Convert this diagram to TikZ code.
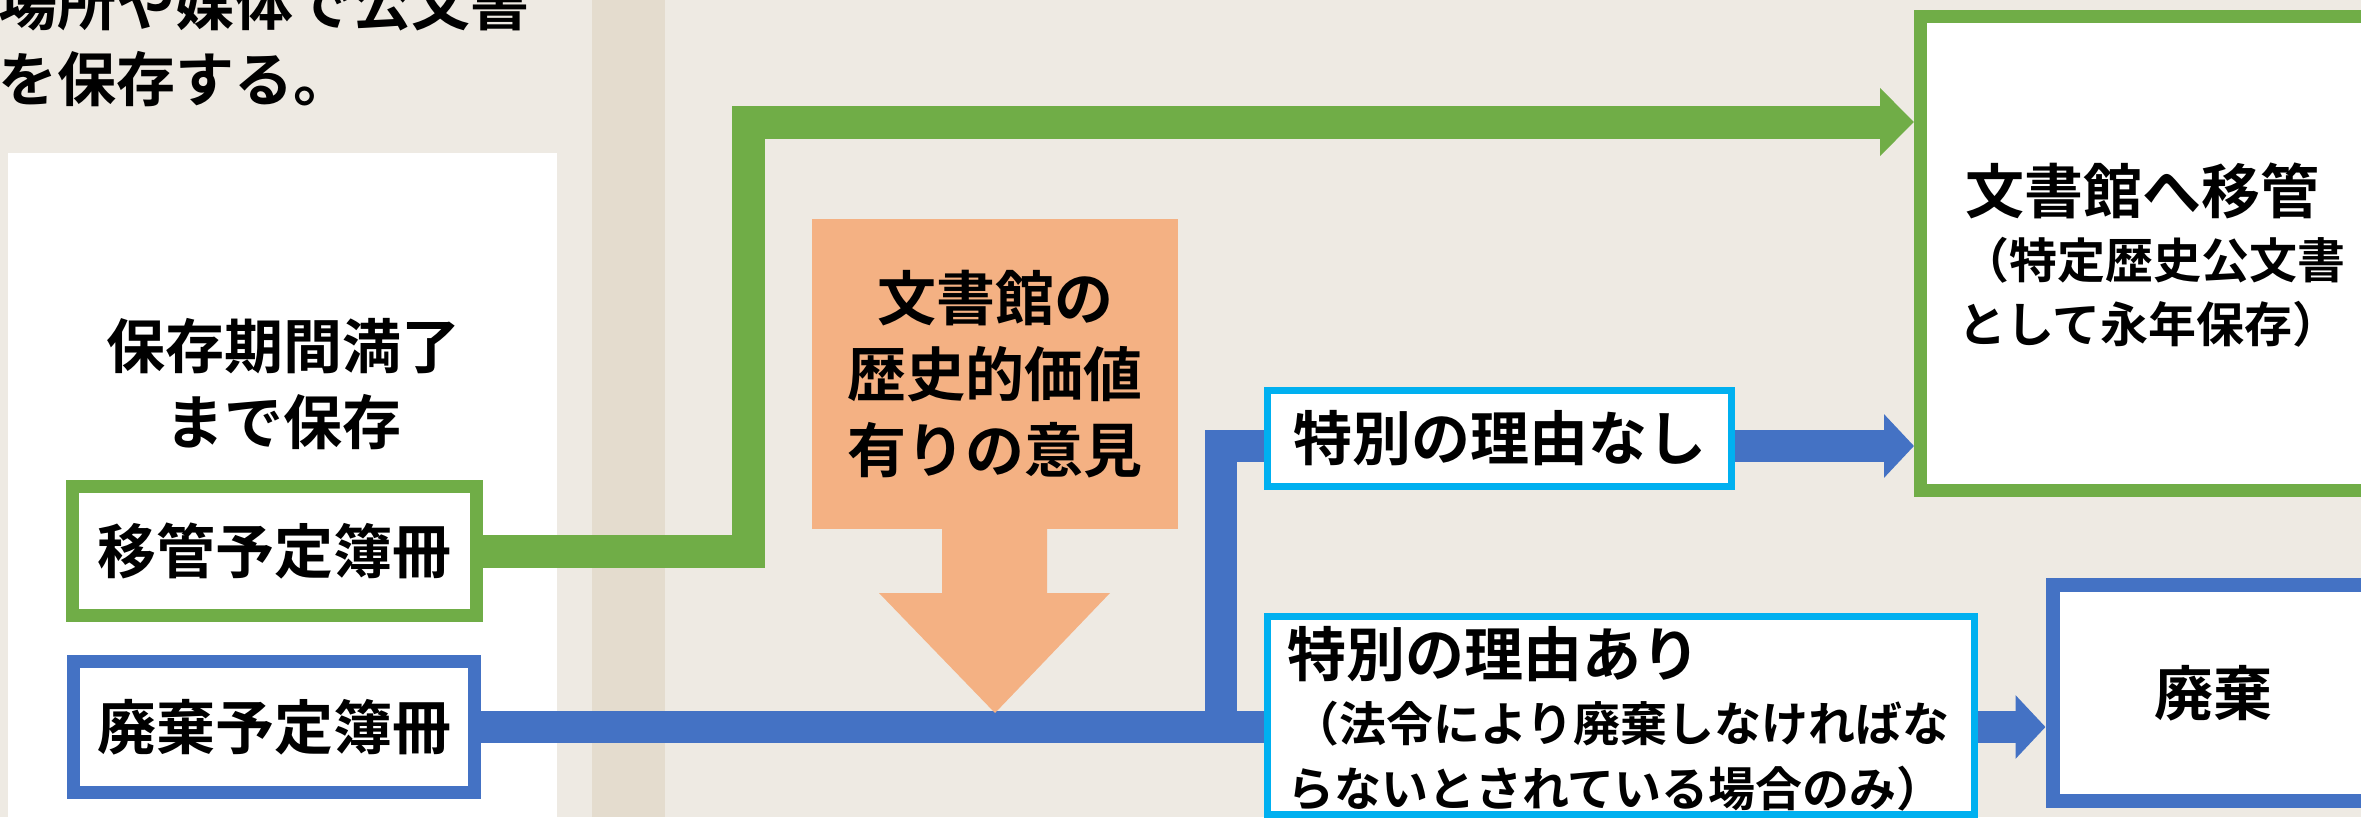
\documentclass[tikz,border=0pt]{standalone}
\usepackage{fontspec}
\newfontfamily\jp{Noto Sans CJK JP}[BoldFont={Noto Sans CJK JP Bold}]
\usetikzlibrary{arrows.meta}
\definecolor{bg}{HTML}{EEEAE3}
\definecolor{stripe}{HTML}{E4DCCE}
\definecolor{gr}{HTML}{70AD47}
\definecolor{bl}{HTML}{4472C4}
\definecolor{cy}{HTML}{00B0F0}
\definecolor{org}{HTML}{F4B183}
\begin{document}
\begin{tikzpicture}[x=1pt,y=-1pt,
  big/.style={font=\jp\bfseries\fontsize{59}{76}\selectfont},
  small/.style={font=\jp\bfseries\fontsize{48}{64}\selectfont},
  smaller/.style={font=\jp\bfseries\fontsize{47}{64}\selectfont},
  txt/.style={inner sep=0pt},
  gbox/.style={draw=gr,line width=13pt,fill=white,inner sep=0pt},
  bbox/.style={draw=bl,line width=13pt,fill=white,inner sep=0pt},
  cbox/.style={draw=cy,line width=7pt,fill=white,inner sep=0pt},
  gline/.style={draw=gr,line width=33pt},
  bline/.style={draw=bl,line width=32pt},
  garrow/.style={gline,-{Triangle[length=34pt,width=66pt]}},
  barrow/.style={bline,-{Triangle[length=30pt,width=62pt]}},
]
\useasboundingbox (0,0) rectangle (2361,817);
\clip (0,0) rectangle (2361,817);
% background
\fill[bg] (0,0) rectangle (2361,817);
\fill[stripe] (592,0) rectangle (665,817);
\fill[white] (8,153) rectangle (557,817);

% top-left text
\node[big,txt,align=left,anchor=west] (toptext) at (-2,41) {場所や媒体で公文書\\を保存する。};

% left panel
\node[big,txt,align=center] (keep) at (283,384.5) {保存期間満了\\まで保存};
\node[gbox,big,minimum width=404pt,minimum height=129pt] (ikan) at (274.5,551) {移管予定簿冊};
\node[bbox,big,minimum width=401pt,minimum height=131pt] (haiki) at (274,727) {廃棄予定簿冊};

% opinion callout
\node[fill=org,big,txt,align=center,minimum width=366pt,minimum height=310pt] (opinion) at (995,374) {文書館の\\歴史的価値\\有りの意見};

% right boxes
\node[gbox,minimum width=453pt,minimum height=474pt] (archive) at (2147,253.5) {};
\node[big,txt,anchor=west] (arch1) at (1965,190.5) {文書館へ移管};
\node[small,txt,anchor=west] (arch2) at (1961,260) {（特定歴史公文書};
\node[small,txt,anchor=west] (arch3) at (1958,324.5) {として永年保存）};

\node[cbox,big,minimum width=464pt,minimum height=96pt] (nashi) at (1499.5,438.5) {特別の理由なし};

\node[cbox,minimum width=707pt,minimum height=198pt] (ari) at (1621,715.5) {};
\node[big,txt,anchor=west] (ari1) at (1287,654.5) {特別の理由あり};
\node[smaller,txt,anchor=west] (ari2) at (1292,723.5) {（法令により廃棄しなければな};
\node[smaller,txt,anchor=west] (ari3) at (1287,788.5) {らないとされている場合のみ）};

\node[bbox,big,line width=14pt,minimum width=321pt,minimum height=216pt] (dispose) at (2213,693) {廃棄};

% connectors
\coordinate (gturn) at (748,122);
\draw[garrow] (ikan.east) -| (gturn) -- (gturn -| archive.west);

\coordinate (bj) at (1221,727);
\draw[bline] (haiki.east) -- (haiki.east -| ari.west);
\draw[bline] (bj) |- ([yshift=-7.5pt]nashi.west);
\draw[barrow] ([yshift=-7.5pt]nashi.east) -- ([yshift=-7.5pt]nashi.east -| archive.west);
\draw[barrow] (haiki.east -| ari.east) -- (haiki.east -| dispose.west);

% opinion arrow
\fill[org] (942,529) -- (1047,529) -- (1047,593) -- (1110,593) -- (995,713) -- (879,593) -- (942,593) -- cycle;
\end{tikzpicture}
\end{document}
